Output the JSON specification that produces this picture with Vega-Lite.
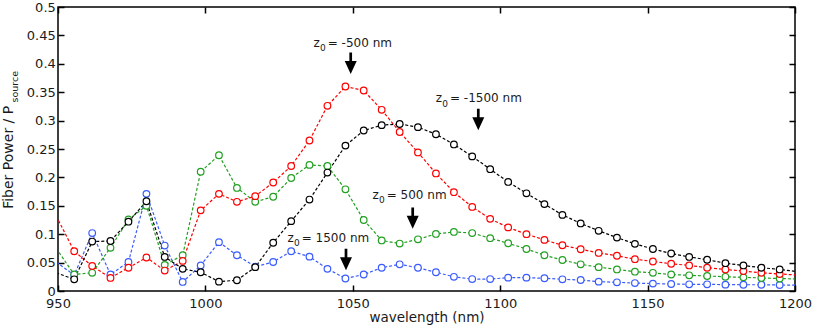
{
  "$schema": "https://vega.github.io/schema/vega-lite/v6.json",
  "width": 737,
  "height": 284,
  "autosize": {"type": "none"},
  "padding": {"left": 58, "top": 7, "right": 21, "bottom": 37},
  "background": "white",
  "config": {
    "view": {"stroke": "#000", "strokeWidth": 1.5},
    "axis": {
      "grid": false, "domain": false, "tickColor": "#000", "tickWidth": 1.5, "tickSize": -6,
      "labelFont": "DejaVu Sans", "labelFontSize": 13, "labelColor": "#1a1a1a",
      "titleFont": "DejaVu Sans", "titleFontWeight": "normal", "titleColor": "#1a1a1a",
      "labelFlush": false, "labelOverlap": false
    }
  },
  "datasets": {
    "curves": [
      {"s":"z0=1500","w":949.4,"p":0.051},{"s":"z0=1500","w":955.5,"p":0.028},{"s":"z0=1500","w":961.6,"p":0.102},{"s":"z0=1500","w":967.8,"p":0.029},{"s":"z0=1500","w":973.9,"p":0.051},{"s":"z0=1500","w":980.0,"p":0.171},{"s":"z0=1500","w":986.2,"p":0.080},{"s":"z0=1500","w":992.3,"p":0.016},{"s":"z0=1500","w":998.4,"p":0.045},{"s":"z0=1500","w":1004.6,"p":0.086},{"s":"z0=1500","w":1010.7,"p":0.063},{"s":"z0=1500","w":1016.9,"p":0.043},{"s":"z0=1500","w":1023.0,"p":0.051},{"s":"z0=1500","w":1029.1,"p":0.070},{"s":"z0=1500","w":1035.3,"p":0.0605},{"s":"z0=1500","w":1041.4,"p":0.039},{"s":"z0=1500","w":1047.5,"p":0.022},{"s":"z0=1500","w":1053.7,"p":0.029},{"s":"z0=1500","w":1059.8,"p":0.041},{"s":"z0=1500","w":1065.9,"p":0.047},{"s":"z0=1500","w":1072.1,"p":0.041},{"s":"z0=1500","w":1078.2,"p":0.033},{"s":"z0=1500","w":1084.3,"p":0.025},{"s":"z0=1500","w":1090.5,"p":0.021},{"s":"z0=1500","w":1096.6,"p":0.021},{"s":"z0=1500","w":1102.7,"p":0.0235},{"s":"z0=1500","w":1108.9,"p":0.0235},{"s":"z0=1500","w":1115.0,"p":0.0224},{"s":"z0=1500","w":1121.1,"p":0.0206},{"s":"z0=1500","w":1127.3,"p":0.0194},{"s":"z0=1500","w":1133.4,"p":0.0165},{"s":"z0=1500","w":1139.6,"p":0.0153},{"s":"z0=1500","w":1145.7,"p":0.014},{"s":"z0=1500","w":1151.8,"p":0.013},{"s":"z0=1500","w":1158.0,"p":0.0123},{"s":"z0=1500","w":1164.1,"p":0.0118},{"s":"z0=1500","w":1170.2,"p":0.0118},{"s":"z0=1500","w":1176.4,"p":0.0112},{"s":"z0=1500","w":1182.5,"p":0.011},{"s":"z0=1500","w":1188.6,"p":0.011},{"s":"z0=1500","w":1194.8,"p":0.0106},{"s":"z0=1500","w":1200.9,"p":0.0103},
      {"s":"z0=500","w":949.4,"p":0.075},{"s":"z0=500","w":955.5,"p":0.029},{"s":"z0=500","w":961.6,"p":0.032},{"s":"z0=500","w":967.8,"p":0.076},{"s":"z0=500","w":973.9,"p":0.126},{"s":"z0=500","w":980.0,"p":0.150},{"s":"z0=500","w":986.2,"p":0.046},{"s":"z0=500","w":992.3,"p":0.063},{"s":"z0=500","w":998.4,"p":0.210},{"s":"z0=500","w":1004.6,"p":0.239},{"s":"z0=500","w":1010.7,"p":0.1815},{"s":"z0=500","w":1016.9,"p":0.157},{"s":"z0=500","w":1023.0,"p":0.166},{"s":"z0=500","w":1029.1,"p":0.199},{"s":"z0=500","w":1035.3,"p":0.222},{"s":"z0=500","w":1041.4,"p":0.220},{"s":"z0=500","w":1047.5,"p":0.179},{"s":"z0=500","w":1053.7,"p":0.125},{"s":"z0=500","w":1059.8,"p":0.089},{"s":"z0=500","w":1065.9,"p":0.0835},{"s":"z0=500","w":1072.1,"p":0.091},{"s":"z0=500","w":1078.2,"p":0.1005},{"s":"z0=500","w":1084.3,"p":0.104},{"s":"z0=500","w":1090.5,"p":0.102},{"s":"z0=500","w":1096.6,"p":0.093},{"s":"z0=500","w":1102.7,"p":0.084},{"s":"z0=500","w":1108.9,"p":0.074},{"s":"z0=500","w":1115.0,"p":0.063},{"s":"z0=500","w":1121.1,"p":0.0546},{"s":"z0=500","w":1127.3,"p":0.047},{"s":"z0=500","w":1133.4,"p":0.042},{"s":"z0=500","w":1139.6,"p":0.038},{"s":"z0=500","w":1145.7,"p":0.034},{"s":"z0=500","w":1151.8,"p":0.032},{"s":"z0=500","w":1158.0,"p":0.029},{"s":"z0=500","w":1164.1,"p":0.0276},{"s":"z0=500","w":1170.2,"p":0.0264},{"s":"z0=500","w":1176.4,"p":0.025},{"s":"z0=500","w":1182.5,"p":0.024},{"s":"z0=500","w":1188.6,"p":0.023},{"s":"z0=500","w":1194.8,"p":0.022},{"s":"z0=500","w":1200.9,"p":0.021},
      {"s":"z0=-500","w":949.4,"p":0.132},{"s":"z0=-500","w":955.5,"p":0.070},{"s":"z0=-500","w":961.6,"p":0.044},{"s":"z0=-500","w":967.8,"p":0.023},{"s":"z0=-500","w":973.9,"p":0.041},{"s":"z0=-500","w":980.0,"p":0.059},{"s":"z0=-500","w":986.2,"p":0.036},{"s":"z0=-500","w":992.3,"p":0.053},{"s":"z0=-500","w":998.4,"p":0.142},{"s":"z0=-500","w":1004.6,"p":0.171},{"s":"z0=-500","w":1010.7,"p":0.157},{"s":"z0=-500","w":1016.9,"p":0.167},{"s":"z0=-500","w":1023.0,"p":0.191},{"s":"z0=-500","w":1029.1,"p":0.220},{"s":"z0=-500","w":1035.3,"p":0.265},{"s":"z0=-500","w":1041.4,"p":0.326},{"s":"z0=-500","w":1047.5,"p":0.360},{"s":"z0=-500","w":1053.7,"p":0.353},{"s":"z0=-500","w":1059.8,"p":0.319},{"s":"z0=-500","w":1065.9,"p":0.280},{"s":"z0=-500","w":1072.1,"p":0.244},{"s":"z0=-500","w":1078.2,"p":0.207},{"s":"z0=-500","w":1084.3,"p":0.174},{"s":"z0=-500","w":1090.5,"p":0.148},{"s":"z0=-500","w":1096.6,"p":0.127},{"s":"z0=-500","w":1102.7,"p":0.112},{"s":"z0=-500","w":1108.9,"p":0.100},{"s":"z0=-500","w":1115.0,"p":0.090},{"s":"z0=-500","w":1121.1,"p":0.0805},{"s":"z0=-500","w":1127.3,"p":0.0735},{"s":"z0=-500","w":1133.4,"p":0.067},{"s":"z0=-500","w":1139.6,"p":0.062},{"s":"z0=-500","w":1145.7,"p":0.056},{"s":"z0=-500","w":1151.8,"p":0.052},{"s":"z0=-500","w":1158.0,"p":0.048},{"s":"z0=-500","w":1164.1,"p":0.045},{"s":"z0=-500","w":1170.2,"p":0.041},{"s":"z0=-500","w":1176.4,"p":0.038},{"s":"z0=-500","w":1182.5,"p":0.035},{"s":"z0=-500","w":1188.6,"p":0.032},{"s":"z0=-500","w":1194.8,"p":0.030},{"s":"z0=-500","w":1200.9,"p":0.028},
      {"s":"z0=-1500","w":949.4,"p":0.032},{"s":"z0=-1500","w":955.5,"p":0.0206},{"s":"z0=-1500","w":961.6,"p":0.087},{"s":"z0=-1500","w":967.8,"p":0.088},{"s":"z0=-1500","w":973.9,"p":0.122},{"s":"z0=-1500","w":980.0,"p":0.158},{"s":"z0=-1500","w":986.2,"p":0.060},{"s":"z0=-1500","w":992.3,"p":0.039},{"s":"z0=-1500","w":998.4,"p":0.033},{"s":"z0=-1500","w":1004.6,"p":0.0165},{"s":"z0=-1500","w":1010.7,"p":0.019},{"s":"z0=-1500","w":1016.9,"p":0.042},{"s":"z0=-1500","w":1023.0,"p":0.085},{"s":"z0=-1500","w":1029.1,"p":0.123},{"s":"z0=-1500","w":1035.3,"p":0.161},{"s":"z0=-1500","w":1041.4,"p":0.2085},{"s":"z0=-1500","w":1047.5,"p":0.256},{"s":"z0=-1500","w":1053.7,"p":0.2825},{"s":"z0=-1500","w":1059.8,"p":0.292},{"s":"z0=-1500","w":1065.9,"p":0.294},{"s":"z0=-1500","w":1072.1,"p":0.2885},{"s":"z0=-1500","w":1078.2,"p":0.276},{"s":"z0=-1500","w":1084.3,"p":0.258},{"s":"z0=-1500","w":1090.5,"p":0.237},{"s":"z0=-1500","w":1096.6,"p":0.2145},{"s":"z0=-1500","w":1102.7,"p":0.192},{"s":"z0=-1500","w":1108.9,"p":0.172},{"s":"z0=-1500","w":1115.0,"p":0.153},{"s":"z0=-1500","w":1121.1,"p":0.134},{"s":"z0=-1500","w":1127.3,"p":0.119},{"s":"z0=-1500","w":1133.4,"p":0.106},{"s":"z0=-1500","w":1139.6,"p":0.094},{"s":"z0=-1500","w":1145.7,"p":0.083},{"s":"z0=-1500","w":1151.8,"p":0.074},{"s":"z0=-1500","w":1158.0,"p":0.066},{"s":"z0=-1500","w":1164.1,"p":0.060},{"s":"z0=-1500","w":1170.2,"p":0.055},{"s":"z0=-1500","w":1176.4,"p":0.049},{"s":"z0=-1500","w":1182.5,"p":0.045},{"s":"z0=-1500","w":1188.6,"p":0.041},{"s":"z0=-1500","w":1194.8,"p":0.038},{"s":"z0=-1500","w":1200.9,"p":0.034}
    ],
    "ann": [
      {"x": 1041.49, "y": 0.4301, "t": "= -500 nm"},
      {"x": 1082.97, "y": 0.3322, "t": "= -1500 nm"},
      {"x": 1061.50, "y": 0.1620, "t": "= 500 nm"},
      {"x": 1032.67, "y": 0.0868, "t": "= 1500 nm"}
    ],
    "arrows": [
      {"x": 1049.29, "y": 0.4008},
      {"x": 1092.57, "y": 0.3019},
      {"x": 1070.32, "y": 0.1283},
      {"x": 1047.69, "y": 0.0555}
    ],
    "ysub": [{"x": 936.53, "y": 0.3318, "t": "source"}]
  },
  "layer": [
    {
      "data": {"name": "curves"},
      "mark": {"type": "line", "strokeDash": [3, 2], "strokeWidth": 1.2, "clip": true},
      "encoding": {
        "x": {"field": "w", "type": "quantitative", "scale": {"domain": [950, 1200], "nice": false, "zero": false},
              "axis": {"orient": "bottom", "values": [950, 1000, 1050, 1100, 1150, 1200], "format": "d", "labelPadding": 12.5,
                       "title": "wavelength (nm)", "titleFontSize": 13.5, "titleY": 30.7, "titleBaseline": "alphabetic"}},
        "y": {"field": "p", "type": "quantitative", "scale": {"domain": [0, 0.5], "nice": false, "zero": false},
              "axis": {"orient": "left", "values": [0, 0.05, 0.1, 0.15, 0.2, 0.25, 0.3, 0.35, 0.4, 0.45, 0.5], "format": "~g", "labelPadding": 8.7,
                       "title": "Fiber Power / P", "titleFontSize": 14, "titleAngle": 270, "titleAlign": "left", "titleBaseline": "alphabetic",
                       "titleX": -45.3, "titleY": 201.3}},
        "color": {"field": "s", "type": "nominal", "legend": null,
                  "scale": {"domain": ["z0=1500", "z0=500", "z0=-500", "z0=-1500"], "range": ["#3a5cff", "#22a022", "#ff0000", "#000000"]}}
      }
    },
    {
      "data": {"name": "curves"},
      "transform": [{"filter": "datum.w >= 950 && datum.w <= 1200"}],
      "mark": {"type": "point", "shape": "circle", "filled": true, "fill": "white", "size": 44, "strokeWidth": 1.2, "opacity": 1},
      "encoding": {
        "x": {"field": "w", "type": "quantitative", "scale": {"domain": [950, 1200], "nice": false, "zero": false},
              "axis": {"orient": "top", "values": [950, 1000, 1050, 1100, 1150, 1200], "labels": false, "title": null}},
        "y": {"field": "p", "type": "quantitative", "scale": {"domain": [0, 0.5], "nice": false, "zero": false},
              "axis": {"orient": "right", "values": [0, 0.05, 0.1, 0.15, 0.2, 0.25, 0.3, 0.35, 0.4, 0.45, 0.5], "labels": false, "title": null}},
        "stroke": {"field": "s", "type": "nominal", "legend": null,
                   "scale": {"domain": ["z0=1500", "z0=500", "z0=-500", "z0=-1500"], "range": ["#3a5cff", "#22a022", "#ff0000", "#000000"]}}
      }
    },
    {
      "data": {"name": "ann"},
      "mark": {"type": "text", "align": "left", "baseline": "alphabetic", "font": "DejaVu Sans", "fontSize": 12, "color": "#1a1a1a"},
      "encoding": {
        "x": {"field": "x", "type": "quantitative", "scale": {"domain": [950, 1200], "nice": false, "zero": false}, "axis": null},
        "y": {"field": "y", "type": "quantitative", "scale": {"domain": [0, 0.5], "nice": false, "zero": false}, "axis": null},
        "text": {"field": "t"}
      }
    },
    {
      "data": {"name": "ann"},
      "mark": {"type": "text", "align": "right", "baseline": "alphabetic", "font": "DejaVu Sans", "fontSize": 12, "color": "#1a1a1a", "dx": -8, "text": "z"},
      "encoding": {
        "x": {"field": "x", "type": "quantitative", "scale": {"domain": [950, 1200], "nice": false, "zero": false}, "axis": null},
        "y": {"field": "y", "type": "quantitative", "scale": {"domain": [0, 0.5], "nice": false, "zero": false}, "axis": null}
      }
    },
    {
      "data": {"name": "ann"},
      "mark": {"type": "text", "align": "left", "baseline": "alphabetic", "font": "DejaVu Sans", "fontSize": 9, "color": "#1a1a1a", "dx": -7.7, "dy": 4.5, "text": "0"},
      "encoding": {
        "x": {"field": "x", "type": "quantitative", "scale": {"domain": [950, 1200], "nice": false, "zero": false}, "axis": null},
        "y": {"field": "y", "type": "quantitative", "scale": {"domain": [0, 0.5], "nice": false, "zero": false}, "axis": null}
      }
    },
    {
      "data": {"name": "arrows"},
      "mark": {"type": "point", "filled": true, "color": "#000", "size": 144, "strokeWidth": 0, "opacity": 1,
               "shape": "M-0.225,-1.79L0.225,-1.79L0.225,-0.38L1,-0.38L0,1.79L-1,-0.38L-0.225,-0.38Z"},
      "encoding": {
        "x": {"field": "x", "type": "quantitative", "scale": {"domain": [950, 1200], "nice": false, "zero": false}, "axis": null},
        "y": {"field": "y", "type": "quantitative", "scale": {"domain": [0, 0.5], "nice": false, "zero": false}, "axis": null}
      }
    },
    {
      "data": {"name": "ysub"},
      "mark": {"type": "text", "align": "left", "baseline": "alphabetic", "angle": 270, "font": "DejaVu Sans", "fontSize": 9.5, "color": "#1a1a1a"},
      "encoding": {
        "x": {"field": "x", "type": "quantitative", "scale": {"domain": [950, 1200], "nice": false, "zero": false}, "axis": null},
        "y": {"field": "y", "type": "quantitative", "scale": {"domain": [0, 0.5], "nice": false, "zero": false}, "axis": null},
        "text": {"field": "t"}
      }
    }
  ],
  "resolve": {"axis": {"x": "independent", "y": "independent"}}
}
